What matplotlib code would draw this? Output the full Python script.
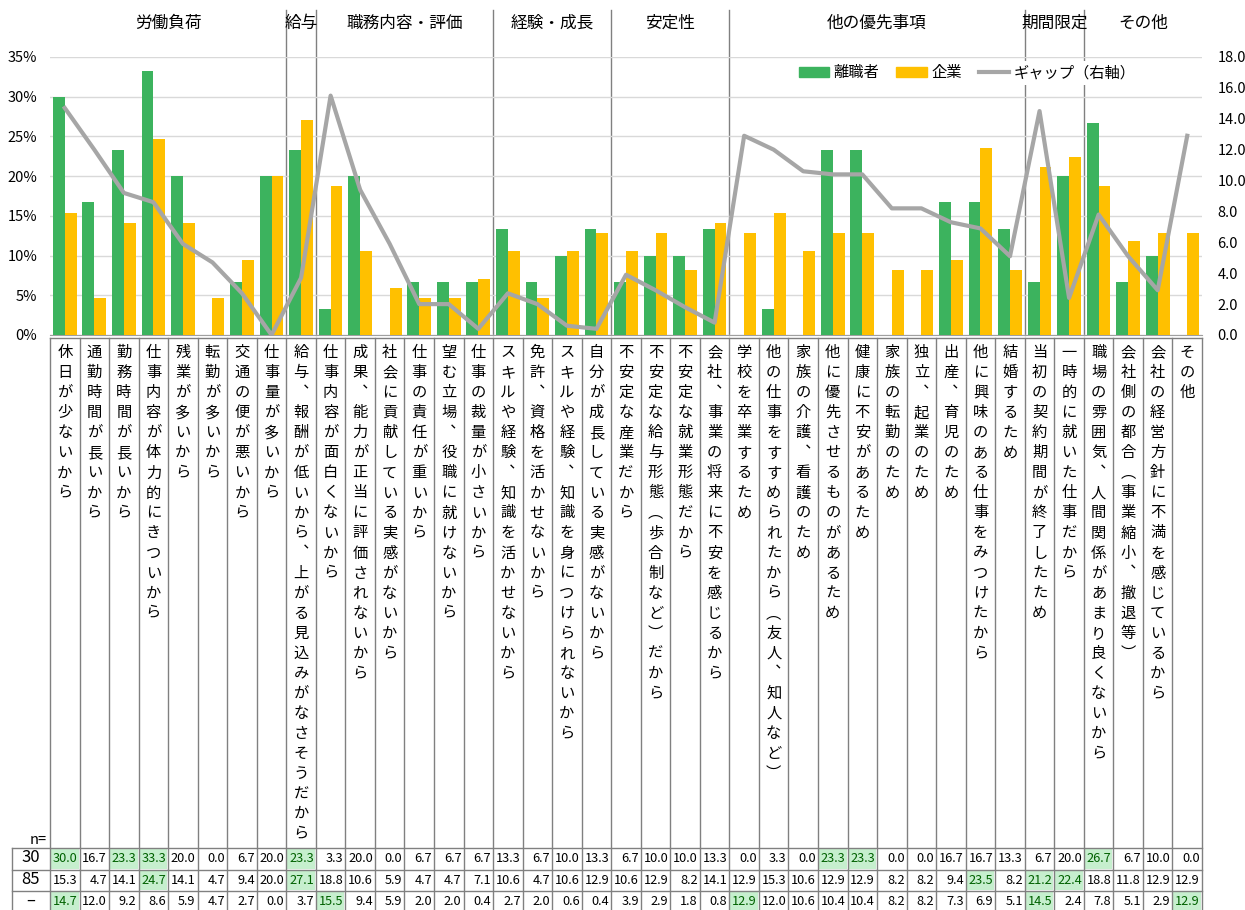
import numpy as np
import matplotlib.pyplot as plt
from matplotlib.patches import Patch, Rectangle
from matplotlib.lines import Line2D
from matplotlib.ticker import FuncFormatter

plt.rcParams['font.family'] = ['Noto Sans CJK JP', 'DejaVu Sans']

# ---- data ----------------------------------------------------------
categories = [
    '休日が少ないから', '通勤時間が長いから', '勤務時間が長いから',
    '仕事内容が体力的にきついから', '残業が多いから', '転勤が多いから',
    '交通の便が悪いから', '仕事量が多いから',
    '給与、報酬が低いから、上がる見込みがなさそうだから',
    '仕事内容が面白くないから', '成果、能力が正当に評価されないから',
    '社会に貢献している実感がないから', '仕事の責任が重いから',
    '望む立場、役職に就けないから', '仕事の裁量が小さいから',
    'スキルや経験、知識を活かせないから', '免許、資格を活かせないから',
    'スキルや経験、知識を身につけられないから', '自分が成長している実感がないから',
    '不安定な産業だから', '不安定な給与形態（歩合制など）だから',
    '不安定な就業形態だから', '会社、事業の将来に不安を感じるから',
    '学校を卒業するため', '他の仕事をすすめられたから（友人、知人など）',
    '家族の介護、看護のため', '他に優先させるものがあるため', '健康に不安があるため',
    '家族の転勤のため', '独立、起業のため', '出産、育児のため',
    '他に興味のある仕事をみつけたから', '結婚するため',
    '当初の契約期間が終了したため', '一時的に就いた仕事だから',
    '職場の雰囲気、人間関係があまり良くないから', '会社側の都合（事業縮小、撤退等）',
    '会社の経営方針に不満を感じているから', 'その他',
]
rishoku = [30.0, 16.7, 23.3, 33.3, 20.0, 0.0, 6.7, 20.0, 23.3, 3.3, 20.0, 0.0, 6.7,
           6.7, 6.7, 13.3, 6.7, 10.0, 13.3, 6.7, 10.0, 10.0, 13.3, 0.0, 3.3, 0.0,
           23.3, 23.3, 0.0, 0.0, 16.7, 16.7, 13.3, 6.7, 20.0, 26.7, 6.7, 10.0, 0.0]
kigyo = [15.3, 4.7, 14.1, 24.7, 14.1, 4.7, 9.4, 20.0, 27.1, 18.8, 10.6, 5.9, 4.7,
         4.7, 7.1, 10.6, 4.7, 10.6, 12.9, 10.6, 12.9, 8.2, 14.1, 12.9, 15.3, 10.6,
         12.9, 12.9, 8.2, 8.2, 9.4, 23.5, 8.2, 21.2, 22.4, 18.8, 11.8, 12.9, 12.9]
gap = [14.7, 12.0, 9.2, 8.6, 5.9, 4.7, 2.7, 0.0, 3.7, 15.5, 9.4, 5.9, 2.0,
       2.0, 0.4, 2.7, 2.0, 0.6, 0.4, 3.9, 2.9, 1.8, 0.8, 12.9, 12.0, 10.6,
       10.4, 10.4, 8.2, 8.2, 7.3, 6.9, 5.1, 14.5, 2.4, 7.8, 5.1, 2.9, 12.9]
groups = ['労働負荷', '給与', '職務内容・評価', '経験・成長', '安定性',
          '他の優先事項', '期間限定', 'その他']
group_sizes = [8, 1, 6, 4, 4, 10, 2, 4]
row_n = ['30', '85', '–']
# highlighted cells (index of category)
hl_rishoku = [0, 2, 3, 8, 26, 27, 35]
hl_kigyo = [3, 8, 31, 33, 34]
hl_gap = [0, 9, 23, 33, 38]

GREEN = '#3cb35e'
YELLOW = '#ffc000'
GRAY = '#a6a6a6'
LINEC = '#808080'

W, H = 1245, 910
X0, X1 = 50, 1202          # plot/table left & right (px)
YTOP, YBOT = 57, 335       # plot top & bottom (px)
n = len(categories)
cw = (X1 - X0) / n

fig = plt.figure(figsize=(W / 100, H / 100), dpi=100)

# overlay axes in pixel coordinates for table, group headers, separators
ov = fig.add_axes([0, 0, 1, 1], zorder=0)
ov.set_xlim(0, W)
ov.set_ylim(H, 0)
ov.axis('off')

ax = fig.add_axes([X0 / W, (H - YBOT) / H, (X1 - X0) / W, (YBOT - YTOP) / H], zorder=1)
ax.patch.set_alpha(0)
x = np.arange(n)
ax.bar(x - 0.2, np.array(rishoku) / 100, width=0.4, color=GREEN, zorder=3)
ax.bar(x + 0.2, np.array(kigyo) / 100, width=0.4, color=YELLOW, zorder=3)
ax.set_xlim(-0.5, n - 0.5)
ax.set_ylim(0, 0.35)
ax.set_yticks(np.arange(0, 0.351, 0.05))
ax.yaxis.set_major_formatter(FuncFormatter(lambda v, p: f'{v * 100:.0f}%'))
ax.grid(axis='y', color='#d9d9d9', lw=1, zorder=0)
ax.set_xticks([])
for s in ['top', 'left', 'right']:
    ax.spines[s].set_visible(False)
ax.spines['bottom'].set_color('#a0a0a0')
ax.tick_params(axis='y', length=0, labelsize=10.5, pad=9)

ax2 = ax.twinx()
ax2.set_zorder(2)
ax2.patch.set_alpha(0)
ax2.plot(x, gap, color=GRAY, lw=3, zorder=4)
ax2.set_ylim(0, 18)
ax2.set_yticks(np.arange(0, 18.1, 2))
ax2.yaxis.set_major_formatter(FuncFormatter(lambda v, p: f'{v:.1f}'))
for s in ax2.spines.values():
    s.set_visible(False)
ax2.tick_params(axis='y', length=0, labelsize=10.5, pad=11)

handles = [Patch(color=GREEN), Patch(color=YELLOW), Line2D([], [], color=GRAY, lw=3)]
leg = ax2.legend(handles, ['離職者', '企業', 'ギャップ（右軸）'], ncol=3,
                 loc='center left', bbox_to_anchor=(788 / W, 1 - 73 / H),
                 bbox_transform=fig.transFigure, frameon=True, fancybox=False,
                 edgecolor='none', facecolor='white', framealpha=1,
                 fontsize=11, handlelength=2.0, handleheight=0.55,
                 columnspacing=1.1, handletextpad=0.3, borderpad=0.2)

# group headers and separators
start = 0
for g, size in zip(groups, group_sizes):
    cx = X0 + (start + size / 2) * cw
    ov.text(cx, 23, g, ha='center', va='center', fontsize=12)
    if start > 0:
        ov.plot([X0 + start * cw] * 2, [10, YBOT], color=LINEC, lw=1)
    start += size

# table: vertical labels
vert = {'、': '︑', '（': '︵', '）': '︶'}
for i, lab in enumerate(categories):
    cx = X0 + (i + 0.5) * cw
    txt = '\n'.join(vert.get(ch, ch) for ch in lab)
    ov.text(cx, 344, txt, ha='center', va='top', fontsize=11, linespacing=1.235)

ROWS = [848, 869.5, 891]
RH = 21.5
ov.plot([X0, X1], [338, 338], color=LINEC, lw=1)
for y in ROWS:
    ov.plot([12, X1], [y, y], color=LINEC, lw=1)
for i in range(n + 1):
    ov.plot([X0 + i * cw] * 2, [338, H], color=LINEC, lw=1)
ov.plot([12, 12], [ROWS[0], H], color=LINEC, lw=1)
ov.text(47, 840, 'n=', ha='right', va='center', fontsize=10.5)

for r, (vals, hl) in enumerate([(rishoku, hl_rishoku), (kigyo, hl_kigyo), (gap, hl_gap)]):
    y = ROWS[r]
    ov.text(31, y + RH / 2 - 1, row_n[r], ha='center', va='center', fontsize=12)
    for i, v in enumerate(vals):
        xl = X0 + i * cw
        col = 'black'
        if i in hl:
            ov.add_patch(Rectangle((xl + 1, y + 1), cw - 2, RH - 2, color='#c6efce', lw=0))
            col = '#006100'
        ov.text(xl + cw - 2, y + RH / 2, f'{v:.1f}', ha='right', va='center',
                fontsize=9.2, color=col)

fig.savefig('out.png', dpi=100)
